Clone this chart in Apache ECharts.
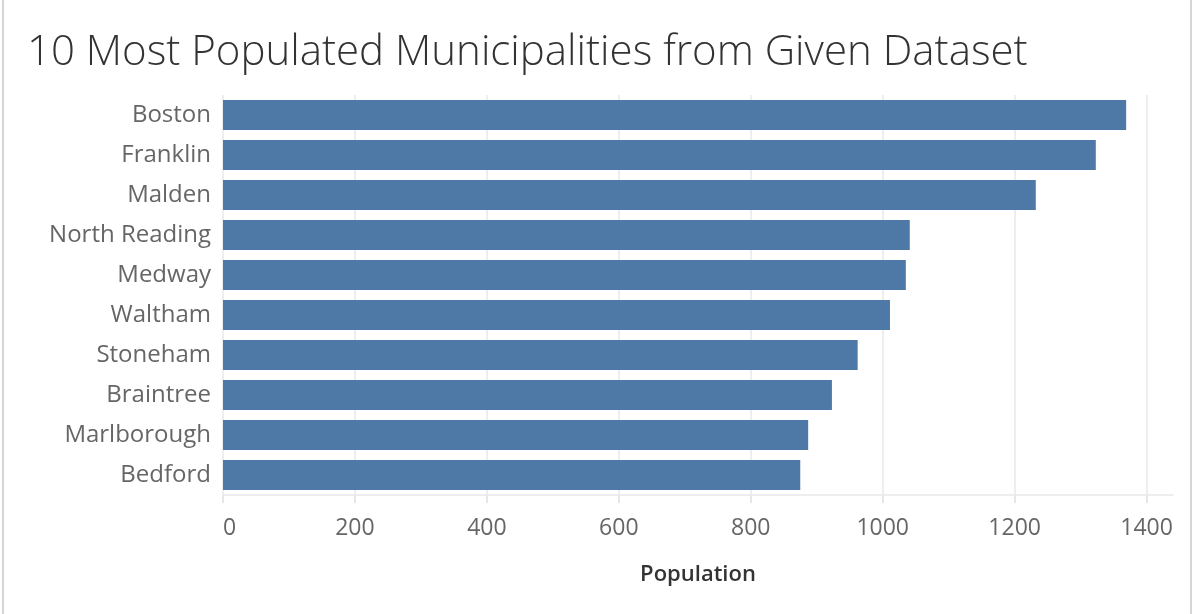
<!DOCTYPE html>
<html>
<head>
<meta charset="utf-8">
<script src="https://cdn.jsdelivr.net/npm/echarts@6/dist/echarts.min.js"></script>
<style>
  body{ margin:0; background:#fff; }
  #main{ position:absolute; left:0; top:0; width:1194px; height:614px; }
  .edge{ position:absolute; top:0; width:2px; height:614px; background:#d6d6d6; }
</style>
</head>
<body>
<div id="main"></div>
<div class="edge" style="left:2px"></div>
<div class="edge" style="left:1190px"></div>
<script>
  // municipalities, largest first
  const towns = ['Boston', 'Franklin', 'Malden', 'North Reading', 'Medway', 'Waltham',
    'Stoneham', 'Braintree', 'Marlborough', 'Bedford'];
  const population = [1369, 1323, 1232, 1041, 1035, 1011, 962, 923, 887, 875];

  let myChart = echarts.init(document.getElementById('main'));
  let option = {
    backgroundColor: '#fff',
    title: {
      text: '10 Most Populated Municipalities from Given Dataset',
      left: 22,
      top: 27,
      textStyle: {
        fontFamily: 'Open Sans',
        fontWeight: 300,
        fontSize: 42,
        color: '#333'
      }
    },
    grid: {
      left: 223,
      right: 21,
      top: 95,
      bottom: 119,
      containLabel: false
    },
    xAxis: {
      type: 'value',
      min: 0,
      max: 1440,
      interval: 200,
      name: 'Population',
      nameLocation: 'middle',
      nameGap: 69,
      nameTextStyle: {
        fontFamily: 'Open Sans',
        fontWeight: 600,
        fontSize: 22,
        color: '#333'
      },
      axisLine: { show: true, lineStyle: { color: '#eeeeee', width: 2 } },
      axisTick: { show: true, length: 8, lineStyle: { color: '#e6e6e6', width: 2 } },
      axisLabel: {
        showMaxLabel: false,
        alignMinLabel: 'left',
        margin: 22,
        fontFamily: 'Open Sans',
        fontSize: 23,
        color: '#666',
        formatter: function (v) { return String(v); }
      },
      splitLine: { show: true, showMaxLine: false, lineStyle: { color: '#eeeeee', width: 2 } }
    },
    yAxis: {
      type: 'category',
      data: towns,
      inverse: true,
      axisLine: { show: false },
      axisTick: { show: false },
      axisLabel: {
        margin: 12,
        padding: [4, 0, 0, 0],
        fontFamily: 'Open Sans',
        fontSize: 24,
        color: '#666'
      }
    },
    series: [{
      type: 'bar',
      data: population,
      barCategoryGap: '25%',
      itemStyle: { color: '#4e79a7' }
    }]
  };
  myChart.setOption(option);
</script>
</body>
</html>
